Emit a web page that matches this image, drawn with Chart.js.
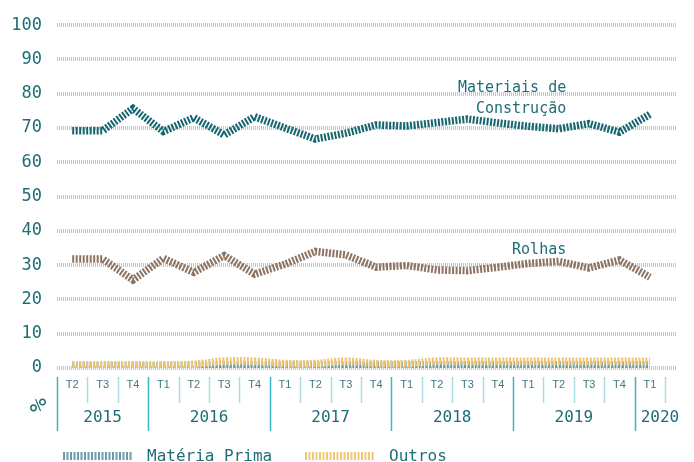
<!DOCTYPE html>
<html lang="pt">
<head>
<meta charset="utf-8">
<title>Exportações por setor</title>
<script src="https://cdn.jsdelivr.net/npm/chart.js@4.4.1/dist/chart.umd.min.js"></script>
<style>
  html, body { margin: 0; padding: 0; background: #fff; }
  #wrap { width: 694px; height: 462px; position: relative; }
</style>
</head>
<body>
<div id="wrap"><canvas id="grafico"></canvas></div>
<script>
// Trimestres de T2 2015 a T1 2020
const trimestres = ['T2','T3','T4','T1','T2','T3','T4','T1','T2','T3','T4','T1','T2','T3','T4','T1','T2','T3','T4','T1'];
const anos = ['2015','2015','2015','2016','2016','2016','2016','2017','2017','2017','2017',
              '2018','2018','2018','2018','2019','2019','2019','2019','2020'];

// Peso de cada setor (%)
const materiaisConstrucao = [69.2, 69.2, 75.7, 69.0, 73.0, 68.0, 73.3, 70.0, 66.8, 68.5, 70.9, 70.6, 71.6, 72.6, 71.5, 70.5, 69.8, 71.3, 68.8, 74.0];
const rolhas = [31.8, 31.8, 25.7, 32.0, 27.9, 32.8, 27.4, 30.3, 34.0, 33.0, 29.4, 29.9, 28.6, 28.4, 29.4, 30.5, 31.1, 29.2, 31.5, 26.5];
const materiaPrima = [0.7, 0.7, 0.7, 0.7, 0.8, 0.9, 0.9, 0.9, 0.9, 0.9, 0.9, 0.9, 0.9, 0.9, 0.9, 0.9, 0.9, 0.9, 0.9, 0.9];
const outros = [0.9, 0.9, 0.9, 0.9, 1.1, 2.0, 2.0, 1.3, 1.3, 2.0, 1.3, 1.3, 2.0, 2.0, 2.0, 2.0, 2.0, 2.0, 2.0, 2.0];

const yTicks = [0, 10, 20, 30, 40, 50, 60, 70, 80, 90, 100];

const TEAL = '#1f6d76';
const MONO = "'DejaVu Sans Mono', monospace";

function serie(nome, valores, cor, tensao) {
    return {
        label: nome,
        data: valores.map((v, i) => ({ x: i, y: v })),
        borderColor: cor,
        borderWidth: 7.5,
        borderDash: [2, 1.5],
        borderCapStyle: 'butt',
        borderJoinStyle: 'miter',
        pointRadius: 0,
        tension: tensao,
        fill: false
    };
}

// Eixo temporal, legenda e rótulos das séries
const decoracoes = {
    id: 'decoracoes',
    afterDraw(chart) {
        const { ctx, chartArea, scales: { x, y } } = chart;
        const base = chartArea.bottom;
        ctx.save();

        // separadores trimestrais e anuais
        for (let i = 0; i <= trimestres.length; i++) {
            const px = Math.round(x.getPixelForValue(i - 0.5)) + 0.5;
            const novoAno = i < anos.length && (i === 0 || anos[i] !== anos[i - 1]);
            ctx.strokeStyle = novoAno ? '#3db5be' : '#a9dde1';
            ctx.lineWidth = 1.5;
            ctx.beginPath();
            ctx.moveTo(px, base + 9);
            ctx.lineTo(px, novoAno ? base + 63 : base + 35);
            ctx.stroke();
        }

        // trimestres
        ctx.font = "11px 'Liberation Sans', sans-serif";
        ctx.fillStyle = '#3f7a84';
        ctx.textAlign = 'center';
        ctx.textBaseline = 'middle';
        trimestres.forEach((t, i) => ctx.fillText(t, x.getPixelForValue(i), base + 17));

        // anos
        ctx.font = '16px ' + MONO;
        ctx.fillStyle = TEAL;
        let inicio = 0;
        for (let i = 1; i <= anos.length; i++) {
            if (i === anos.length || anos[i] !== anos[inicio]) {
                const esq = x.getPixelForValue(inicio - 0.5);
                const dir = x.getPixelForValue(i - 0.5);
                const w = ctx.measureText(anos[inicio]).width;
                const cx = Math.max((esq + dir) / 2, esq + 6 + w / 2);
                ctx.fillText(anos[inicio], cx, base + 50);
                inicio = i;
            }
        }

        // unidade
        ctx.font = '23px ' + MONO;
        ctx.save();
        ctx.translate(36, base + 37);
        ctx.rotate(Math.PI / 2);
        ctx.fillText('%', 0, 0);
        ctx.restore();

        // legenda
        const legenda = [
            { nome: 'Matéria Prima', cor: '#6a9ca7', x0: 63 },
            { nome: 'Outros', cor: '#f1c677', x0: 305 }
        ];
        ctx.font = '16px ' + MONO;
        ctx.textAlign = 'left';
        legenda.forEach(l => {
            ctx.strokeStyle = l.cor;
            ctx.lineWidth = 8;
            ctx.setLineDash([2, 1.5]);
            ctx.beginPath();
            ctx.moveTo(l.x0, 456);
            ctx.lineTo(l.x0 + 69, 456);
            ctx.stroke();
            ctx.setLineDash([]);
            ctx.fillStyle = TEAL;
            ctx.fillText(l.nome, l.x0 + 84, 457);
        });

        // rótulos das séries
        ctx.font = '15px ' + MONO;
        ctx.textAlign = 'right';
        const xr = x.getPixelForValue(16.25);
        ctx.fillText('Materiais de', xr, y.getPixelForValue(81.6));
        ctx.fillText('Construção', xr, y.getPixelForValue(75.6));
        ctx.fillText('Rolhas', xr, y.getPixelForValue(34.5));

        ctx.restore();
    }
};

new Chart(document.getElementById('grafico'), {
    type: 'line',
    data: {
        datasets: [
            serie('Outros', outros, '#f0c470', 0.4),
            serie('Matéria Prima', materiaPrima, '#6a9ca7', 0.4),
            serie('Rolhas', rolhas, '#8c7362', 0),
            serie('Materiais de Construção', materiaisConstrucao, '#15666f', 0)
        ]
    },
    options: {
        responsive: true,
        maintainAspectRatio: false,
        animation: false,
        layout: { padding: { top: 23, bottom: 94, right: 18, left: 0 } },
        plugins: { legend: { display: false }, tooltip: { enabled: false } },
        scales: {
            x: { type: 'linear', min: -0.5, max: 19.86, display: false },
            y: {
                min: 0, max: 100,
                afterFit: s => { s.width = 57; },
                afterBuildTicks: s => { s.ticks = yTicks.map(v => ({ value: v })); },
                ticks: { color: TEAL, padding: 15, font: { family: MONO, size: 17 } },
                grid: { color: '#d6c49c', lineWidth: 4, drawTicks: false },
                border: { display: false, dash: [1, 1] }
            }
        }
    },
    plugins: [decoracoes]
});
</script>
</body>
</html>
